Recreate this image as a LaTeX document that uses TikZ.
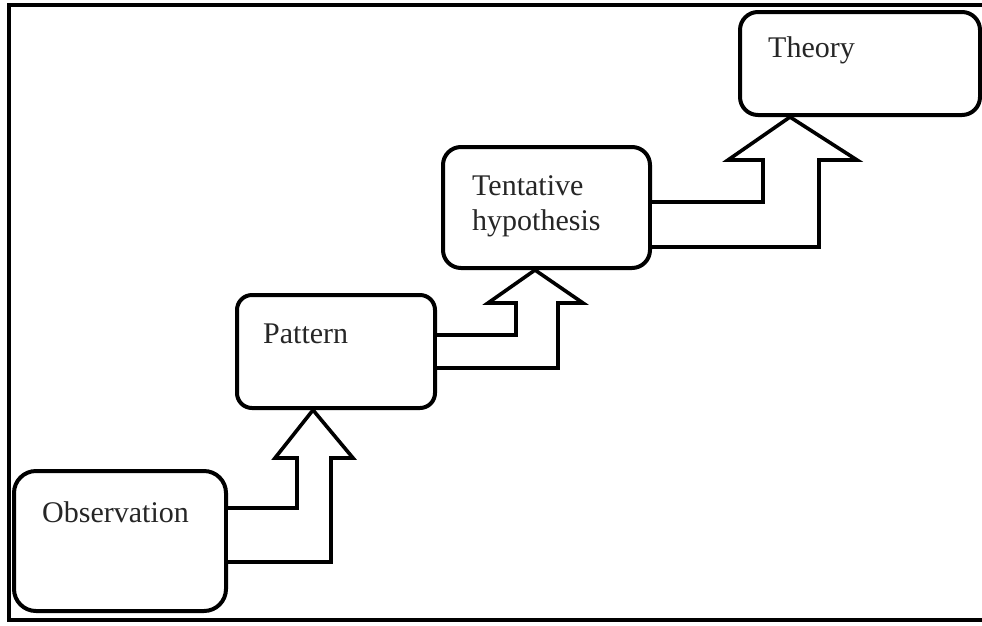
\documentclass[tikz,border=0pt]{standalone}
\usepackage{fontspec}
\setmainfont{Liberation Serif}
\begin{document}
\begin{tikzpicture}[x=1pt,y=-1pt,
  stage/.style={draw=black, line width=4pt, fill=white, rounded corners=#1, inner sep=0pt},
  stage/.default=18pt,
  caption/.style={anchor=base west, inner sep=0pt, font=\fontsize{30}{35}\selectfont, text=black!85, align=left},
  blockarrow/.style={draw=black, line width=3.6pt, line join=miter, fill=white}]
\useasboundingbox (0,0) rectangle (982,625);
% outer frame
\draw[line width=4pt] (982,5) -- (9,5) -- (9,620) -- (982,620);

% stage boxes
\node[stage=22pt, minimum width=212pt, minimum height=140pt] (obs) at (120,541) {};
\node[stage=15pt, minimum width=198pt, minimum height=113pt] (pat) at (336,351.5) {};
\node[stage=18pt, minimum width=207pt, minimum height=121pt] (hyp) at (546.5,207.5) {};
\node[stage=18pt, minimum width=240pt, minimum height=103pt] (thy) at (860,63.5) {};

% labels (multi-line labels sit on the baseline of their last line)
\node[caption] (obsl) at (42,522) {Observation};
\node[caption] (patl) at (263,343) {Pattern};
\node[caption] (hypl) at (472,230) {Tentative\\hypothesis};
\node[caption] (thyl) at (768,57) {Theory};

% bent block arrows between stages
\draw[blockarrow] (obs.east |- 0,508) -- (297,508) -- (297,458) -- (275,458)
  -- (pat.south -| 313,0) -- (353,458) -- (331,458) -- (331,562) -- (obs.east |- 0,562);
\draw[blockarrow] (pat.east |- 0,335) -- (516,335) -- (516,303) -- (488,303)
  -- (hyp.south -| 535,0) -- (583,303) -- (558,303) -- (558,368) -- (pat.east |- 0,368);
\draw[blockarrow] (hyp.east |- 0,202) -- (763,202) -- (763,160) -- (728,160)
  -- (thy.south -| 790,0) -- (857,160) -- (819,160) -- (819,247) -- (hyp.east |- 0,247);
\end{tikzpicture}
\end{document}
